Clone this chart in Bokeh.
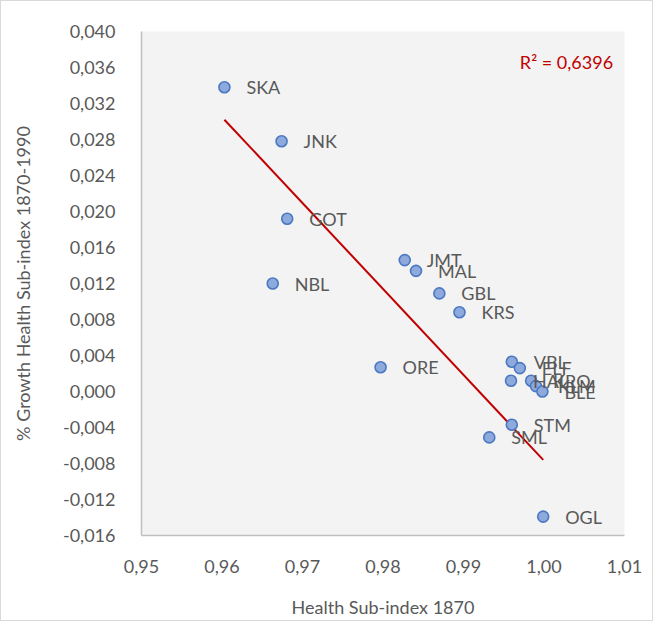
from bokeh.plotting import figure
from bokeh.models import ColumnDataSource, Label, FixedTicker, CustomJSTickFormatter, Range1d
from bokeh.embed import file_html
from bokeh.resources import INLINE
from bokeh.core.properties import value

regions = ["SKA", "JNK", "GOT", "NBL", "JMT", "MAL", "GBL", "KRS", "ORE",
           "VBL", "ELF", "HAL", "KRO", "KLM", "BLE", "STM", "SML", "OGL"]
health_1870 = [0.9603, 0.9674, 0.9681, 0.9663, 0.9827, 0.9841, 0.9870, 0.9895, 0.9797,
               0.9960, 0.9970, 0.9959, 0.9984, 0.9990, 0.9998, 0.9960, 0.9932, 0.9999]
growth_1870_1990 = [0.0338, 0.0278, 0.0192, 0.0120, 0.0146, 0.0134, 0.0109, 0.0088, 0.0027,
                    0.0033, 0.0026, 0.0012, 0.0012, 0.0006, 0.0000, -0.0037, -0.0051, -0.0139]

trend_x = [0.9603, 0.9999]
trend_y = [0.0302, -0.0076]
r2_text = "R² = 0,6396"

x_ticks = [0.95, 0.96, 0.97, 0.98, 0.99, 1.00, 1.01]
y_ticks = [-0.016, -0.012, -0.008, -0.004, 0.000, 0.004, 0.008, 0.012,
           0.016, 0.020, 0.024, 0.028, 0.032, 0.036, 0.040]

FONT = "Lato"
GRAY = "#595959"
FS = "18px"

p = figure(width=653, height=621, output_backend="svg", toolbar_location=None,
           x_range=Range1d(0.95, 1.01), y_range=Range1d(-0.016, 0.040),
           min_border_left=140, min_border_right=30, min_border_top=30, min_border_bottom=87)
p.styles = {"border": "1px solid #d9d9d9"}
p.background_fill_color = "#f3f3f3"
p.border_fill_color = "white"
p.outline_line_color = None
p.xgrid.grid_line_color = None
p.ygrid.grid_line_color = None

for ax in (p.xaxis[0], p.yaxis[0]):
    ax.axis_line_color = "#bfbfbf"
    ax.axis_line_width = 1.5
    ax.major_tick_line_color = None
    ax.minor_tick_line_color = None
    ax.major_label_text_font = FONT
    ax.major_label_text_font_size = FS
    ax.major_label_text_color = GRAY
    ax.axis_label_text_font = FONT
    ax.axis_label_text_font_size = FS
    ax.axis_label_text_color = GRAY
    ax.axis_label_text_font_style = "normal"

p.xaxis.ticker = FixedTicker(ticks=x_ticks)
p.yaxis.ticker = FixedTicker(ticks=y_ticks)
p.xaxis.formatter = CustomJSTickFormatter(code="return tick.toFixed(2).replace('.', ',');")
p.yaxis.formatter = CustomJSTickFormatter(code="return tick.toFixed(3).replace('.', ',');")
p.xaxis.major_label_standoff = 18
p.yaxis.major_label_standoff = 20
p.xaxis.axis_label = "Health Sub-index 1870"
p.yaxis.axis_label = "% Growth Health Sub-index 1870-1990"
p.xaxis.axis_label_standoff = 20
p.yaxis.axis_label_standoff = 26

src = ColumnDataSource(dict(x=health_1870, y=growth_1870_1990, name=regions))

p.line(trend_x, trend_y, line_color="#c00000", line_width=2)

p.scatter("x", "y", source=src, size=11, fill_color="#8eaadc", line_color="#4a78c2",
          line_width=1.6)

p.text("x", "y", text="name", source=src, x_offset=22, text_baseline="middle",
       text_font=value(FONT), text_font_size=FS, text_color=GRAY)

p.add_layout(Label(x=0.9970, y=0.0366, text=r2_text, text_baseline="middle",
                   text_font=FONT, text_font_size=FS, text_color="#c00000"))

open("out.html", "w").write(file_html(p, INLINE))
